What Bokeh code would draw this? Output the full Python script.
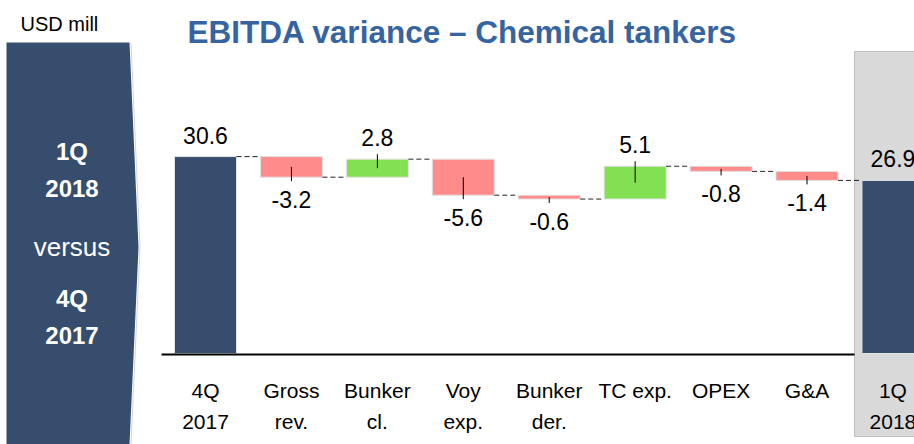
from bokeh.plotting import figure
from bokeh.models import Range1d
from bokeh.core.properties import value
from bokeh.embed import file_html
from bokeh.resources import INLINE

# ---- data ----
categories = ["4Q\n2017", "Gross\nrev.", "Bunker\ncl.", "Voy\nexp.", "Bunker\nder.",
              "TC exp.", "OPEX", "G&A", "1Q\n2018"]
start_value = 30.6
changes = [-3.2, 2.8, -5.6, -0.6, 5.1, -0.8, -1.4]
end_value = 26.9
value_labels = ["30.6", "-3.2", "2.8", "-5.6", "-0.6", "5.1", "-0.8", "-1.4", "26.9"]
title_text = "EBITDA variance \u2013 Chemical tankers"
unit_text = "USD mill"
panel_lines = ["1Q", "2018", "versus", "4Q", "2017"]

# ---- colours ----
NAVY = "#374D6E"
RED = "#FF8B8B"
GREEN = "#82E052"
BLUE = "#3564A0"
FONT = "Liberation Sans"

# ---- geometry (page pixels -> data) ----
W, H = 914, 444
PX_CAT = 85.93      # pixels per category
PX_UNIT = 6.435     # pixels per USD mill
X_REF, Y_REF = 205.0, 353.0


def dx(px):
    return (px - X_REF) / PX_CAT


def dy(py):
    return (Y_REF - py) / PX_UNIT


p = figure(width=W, height=H, output_backend="svg", toolbar_location=None,
           x_range=Range1d(dx(0), dx(W)), y_range=Range1d(dy(H), dy(0)),
           min_border=0, x_axis_location=None, y_axis_location=None,
           outline_line_color=None, background_fill_color="white")
p.grid.visible = False

# ---- waterfall computations ----
bar_w = 62 / PX_CAT
n = len(categories)
bottoms, tops, colors = [0.0], [start_value], [NAVY]
levels = [start_value]
running = start_value
for c in changes:
    prev = running
    running = round(running + c, 4)
    bottoms.append(min(prev, running))
    tops.append(max(prev, running))
    colors.append(GREEN if c > 0 else RED)
    levels.append(running)
bottoms.append(0.0)
tops.append(end_value)
colors.append(NAVY)
xs = list(range(n))

# gray highlight box behind final bar
p.quad(left=[dx(854)], right=[dx(930)], bottom=[dy(436)], top=[dy(51)],
       fill_color="#D9D9D9", line_color="#BDBDBD", line_width=1)

# bars
p.vbar(x=xs, width=bar_w, bottom=bottoms, top=tops, fill_color=colors,
       line_color="#E2E2E2", line_width=1)

# baseline
p.segment(x0=[dx(161)], x1=[dx(854)], y0=[dy(354)], y1=[dy(354)],
          line_color="black", line_width=2)

# connectors
cx0 = [i + bar_w / 2 for i in range(len(levels))]
cx1 = [i + 1 - bar_w / 2 for i in range(len(levels))]
p.segment(x0=cx0, x1=cx1, y0=levels, y1=levels, line_color="#222222",
          line_width=1, line_dash="5 3")

# leader ticks in delta bars
lx, ly0, ly1 = [], [], []
for i, c in enumerate(changes, start=1):
    mid = (bottoms[i] + tops[i]) / 2
    lx.append(i)
    if c < 0:
        ly0.append(mid)
        ly1.append(bottoms[i] - 4 / PX_UNIT)
    else:
        ly0.append(tops[i] + 5 / PX_UNIT)
        ly1.append(mid)
p.segment(x0=lx, x1=lx, y0=ly0, y1=ly1, line_color="black", line_width=1)

# value labels
pos_x, pos_y, pos_t, neg_x, neg_y, neg_t = [], [], [], [], [], []
for i in range(n):
    is_neg = 0 < i < n - 1 and changes[i - 1] < 0
    if is_neg:
        neg_x.append(i); neg_y.append(bottoms[i]); neg_t.append(value_labels[i])
    else:
        pos_x.append(i); pos_y.append(tops[i]); pos_t.append(value_labels[i])
p.text(x=pos_x, y=pos_y, text=pos_t, text_align="center", text_baseline="middle",
       y_offset=-21.5, text_font=value(FONT), text_font_size="23px", text_color="black")
p.text(x=neg_x, y=neg_y, text=neg_t, text_align="center", text_baseline="middle",
       y_offset=22, text_font=value(FONT), text_font_size="23px", text_color="black")

# category labels (two lines)
l1 = [c.split("\n")[0] for c in categories]
l2 = [c.split("\n")[1] if "\n" in c else "" for c in categories]
p.text(x=xs, y=[dy(390)] * n, text=l1, text_align="center", text_baseline="middle",
       text_font=value(FONT), text_font_size="21px", text_color="black")
p.text(x=xs, y=[dy(421)] * n, text=l2, text_align="center", text_baseline="middle",
       text_font=value(FONT), text_font_size="21px", text_color="black")

# left arrow panel
p.patch(x=[dx(6), dx(129), dx(138), dx(129), dx(6)],
        y=[dy(42), dy(42), dy(247), dy(444), dy(444)],
        fill_color=NAVY, line_color=None)
p.line(x=[dx(130.5), dx(139.5), dx(130.5)], y=[dy(42), dy(247), dy(444)],
       line_color="#D5D5D5", line_width=1)

panel_y = [151.3, 188, 246.5, 298.3, 335]
panel_bold = [True, True, False, True, True]
for t, yy, b in zip(panel_lines, panel_y, panel_bold):
    p.text(x=[dx(71.5)], y=[dy(yy)], text=[t], text_align="center",
           text_baseline="middle", text_font=value(FONT),
           text_font_size="24px" if b else "26px",
           text_font_style="bold" if b else "normal", text_color="white")

# unit label and title
p.text(x=[dx(20)], y=[dy(23)], text=[unit_text], text_align="left",
       text_baseline="middle", text_font=value(FONT), text_font_size="20px",
       text_color="black")
p.text(x=[dx(187)], y=[dy(31)], text=[title_text], text_align="left",
       text_baseline="middle", text_font=value(FONT), text_font_size="31.5px",
       text_font_style="bold", text_color=BLUE)

open("out.html", "w").write(file_html(p, INLINE))
